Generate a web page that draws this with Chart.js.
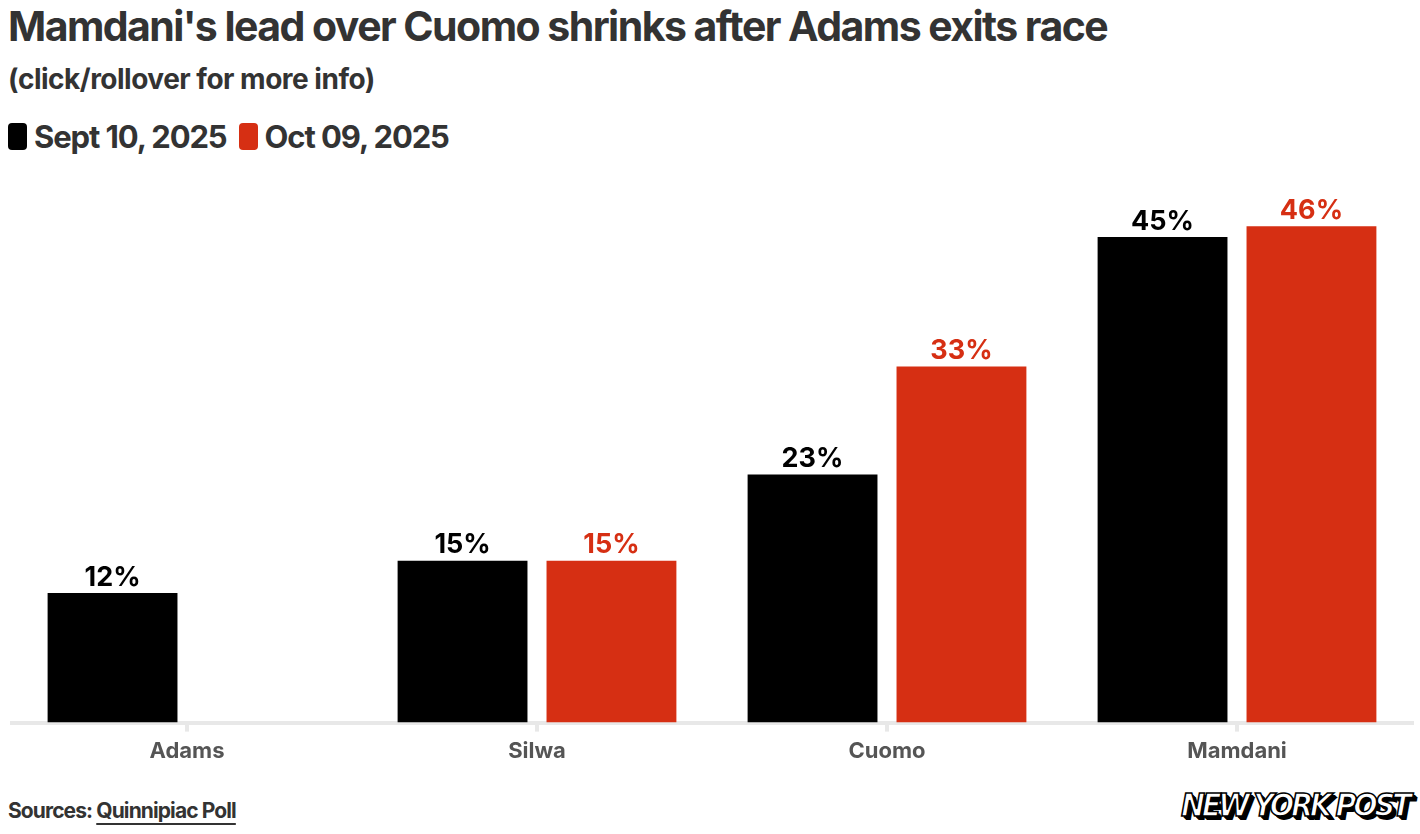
<!DOCTYPE html>
<html>
<head>
<meta charset="utf-8">
<script src="https://cdn.jsdelivr.net/npm/chart.js@4.4.1/dist/chart.umd.min.js"></script>
<style>
  html, body { margin: 0; padding: 0; background: #fff; }
  body { width: 1420px; height: 834px; position: relative; overflow: hidden; font-family: Inter, "Noto Sans", sans-serif; }
  #title { position: absolute; left: 8px; top: 1px; font-size: 41px; font-weight: 700; color: #333; letter-spacing: -1.55px; white-space: nowrap; }
  #subtitle { position: absolute; left: 8px; top: 62px; font-size: 28px; font-weight: 700; color: #333; letter-spacing: -0.5px; white-space: nowrap; }
  #legend { position: absolute; left: 8px; top: 118px; display: flex; align-items: center; font-size: 31px; font-weight: 700; color: #333; letter-spacing: -1.1px; white-space: nowrap; }
  .sw { display: inline-block; width: 19px; height: 27px; border-radius: 4px; margin-right: 7px; }
  .item { display: flex; align-items: center; margin-right: 12px; }
  #chartBox { position: absolute; left: 0; top: 183px; width: 1420px; height: 589px; }
  #source { position: absolute; left: 8px; top: 798px; font-size: 21px; font-weight: 700; color: #333; letter-spacing: -0.9px; white-space: nowrap; }
  #source span { text-decoration: underline; text-underline-offset: 5px; }
  #logo { position: absolute; left: 1181px; top: 786px; font-family: "DejaVu Sans Condensed", "DejaVu Sans", sans-serif; font-style: italic; font-weight: 900; font-size: 32px; color: #fff; letter-spacing: -3.3px; -webkit-text-stroke: 1.5px #000; text-shadow: 2px 2px 0 #000, 3px 3px 0 #000, 4px 4px 0 #000; white-space: nowrap; }
</style>
</head>
<body>
<div id="title">Mamdani's lead over Cuomo shrinks after Adams exits race</div>
<div id="subtitle">(click/rollover for more info)</div>
<div id="legend"></div>
<div id="chartBox"><canvas id="c"></canvas></div>
<div id="source">Sources: <span>Quinnipiac Poll</span></div>
<div id="logo">NEW YORK POST</div>
<script>
const categories = ["Adams", "Silwa", "Cuomo", "Mamdani"];
const seriesNames = ["Sept 10, 2025", "Oct 09, 2025"];
const sept10 = [12, 15, 23, 45];
const oct09 = [null, 15, 33, 46];
const seriesColors = ["#000000", "#d62f13"];

const legend = document.getElementById('legend');
seriesNames.forEach((n, i) => {
  const it = document.createElement('div');
  it.className = 'item';
  it.innerHTML = '<span class="sw" style="background:' + seriesColors[i] + '"></span>' + n;
  legend.appendChild(it);
});

const valueLabels = {
  id: 'valueLabels',
  afterDatasetsDraw(chart) {
    const ctx = chart.ctx;
    ctx.save();
    ctx.font = '700 27px Inter, "Noto Sans", sans-serif';
    ctx.textAlign = 'center';
    ctx.textBaseline = 'bottom';
    chart.data.datasets.forEach((ds, di) => {
      const meta = chart.getDatasetMeta(di);
      meta.data.forEach((bar, i) => {
        const v = ds.data[i];
        if (v === null || v === undefined) return;
        ctx.fillStyle = seriesColors[di];
        ctx.fillText(v + '%', bar.x, bar.y - 2);
      });
    });
    ctx.restore();
  }
};

new Chart(document.getElementById('c'), {
  type: 'bar',
  data: {
    labels: categories,
    datasets: [
      { label: seriesNames[0], data: sept10, backgroundColor: seriesColors[0] },
      { label: seriesNames[1], data: oct09, backgroundColor: seriesColors[1] }
    ]
  },
  options: {
    responsive: true,
    maintainAspectRatio: false,
    animation: false,
    layout: { padding: { left: 12, right: 8, top: 0, bottom: 0 } },
    datasets: { bar: { categoryPercentage: 0.851, barPercentage: 0.872 } },
    plugins: { legend: { display: false }, tooltip: { enabled: true } },
    scales: {
      x: {
        grid: { display: true, drawOnChartArea: false, drawTicks: true, offset: false, tickLength: 9, color: '#e8e8e8', lineWidth: 4 },
        border: { display: true, color: '#e8e8e8', width: 4 },
        ticks: { color: '#555', font: { family: 'Inter, "Noto Sans", sans-serif', size: 22, weight: '700' }, padding: 7 }
      },
      y: { display: false, min: 0, max: 50 }
    }
  },
  plugins: [valueLabels]
});
</script>
</body>
</html>
